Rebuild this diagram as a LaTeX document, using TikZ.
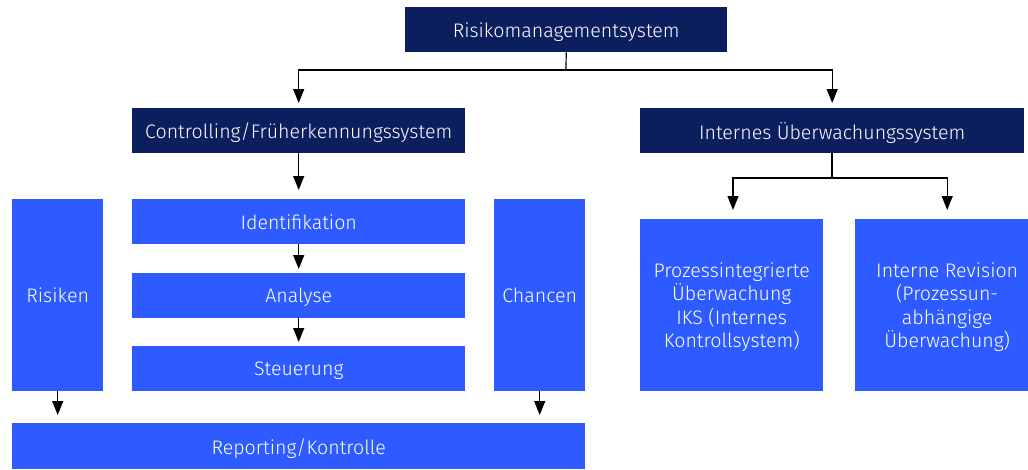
\documentclass[tikz,border=0pt]{standalone}
\usepackage{fontspec}
\setmainfont{Fira Sans}[UprightFont=* Light]
\usetikzlibrary{arrows.meta}
\definecolor{navy}{HTML}{0B1F5E}
\definecolor{blu}{HTML}{2E5BFF}
\tikzset{
  box/.style={inner sep=0pt, anchor=north west, text=white, align=center,
    font=\fontsize{19.6}{23.5}\selectfont, text depth=0pt},
  darkbox/.style={box, fill=navy},
  litebox/.style={box, fill=blu},
  ln/.style={line width=1.2pt, black},
  arr/.style={ln, -{Triangle[width=11pt,length=14pt]}},
}
\begin{document}
\begin{tikzpicture}[x=1pt,y=-1pt]
\useasboundingbox (0,0) rectangle (1028,469);
\clip (0,0) rectangle (1028,469);
\node[darkbox, minimum width=322pt, minimum height=45pt] (rms) at (405,7) {Risikomanagementsystem};
\node[darkbox, minimum width=333pt, minimum height=45pt] (ctrl) at (132,108) {Controlling/Früherkennungssystem};
\node[darkbox, minimum width=384pt, minimum height=45pt] (ius) at (640,108) {Internes Überwachungssystem};
\node[litebox, minimum width=333pt, minimum height=45pt] (ident) at (132,199) {Identifikation};
\node[litebox, minimum width=333pt, minimum height=45pt] (ana) at (132,273) {Analyse};
\node[litebox, minimum width=333pt, minimum height=45pt] (steu) at (132,346) {Steuerung};
\node[litebox, minimum width=91pt, minimum height=192pt] (ris) at (12,199) {Risiken};
\node[litebox, minimum width=91pt, minimum height=192pt] (cha) at (494,199) {Chancen};
\node[litebox, minimum width=573pt, minimum height=46pt] (rep) at (12,423) {Reporting/Kontrolle};
\node[litebox, minimum width=183pt, minimum height=172pt] (iks) at (640,219) {Prozessintegrierte\\Überwachung\\IKS (Internes\\Kontrollsystem)};
\node[litebox, minimum width=184pt, minimum height=172pt] (rev) at (855,219) {Interne Revision\\(Prozessun-\\abhängige\\Überwachung)};
\coordinate (j1) at (566,70);
\coordinate (j2) at (832,178);
\draw[ln] (rms.south) -- (j1);
\draw[arr] (j1) -| ([yshift=5pt]ctrl.north);
\draw[arr] (j1) -| ([yshift=5pt]ius.north);
\draw[arr, shorten >=9pt] (ctrl) -- (ident);
\draw[arr, shorten >=4pt] (ident) -- (ana);
\draw[arr, shorten >=4pt] (ana) -- (steu);
\draw[arr, shorten >=8pt] (ris.south) -- (ris.south |- rep.north);
\draw[arr, shorten >=8pt] (cha.south) -- (cha.south |- rep.north);
\draw[ln] (ius.south -| j2) -- (j2);
\draw[arr] (j2) -| ([yshift=9pt]iks.north -| 733,0);
\draw[arr] (j2) -| ([yshift=9pt]rev.north);
\end{tikzpicture}
\end{document}
